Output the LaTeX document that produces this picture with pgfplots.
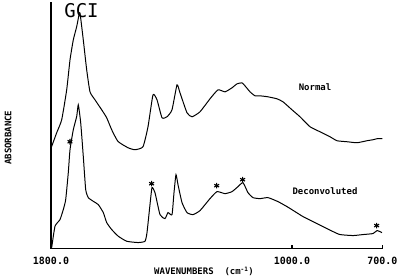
\documentclass[border=0pt]{standalone}
\usepackage{fontspec}
\setmainfont{DejaVu Sans Mono}
\usepackage{pgfplots}
\pgfplotsset{compat=1.18}
\begin{document}
\begin{tikzpicture}
\begin{axis}[
  scale only axis,
  width=332pt, height=247pt,
  x dir=reverse,
  xmin=700, xmax=1800, ymin=0, ymax=247,
  axis x line*=bottom, axis y line*=left,
  axis line style={-, line width=1.3pt},
  xtick={1800,1000,700},
  xticklabels={1800.0,1000.0,700.0},
  ytick=\empty,
  tick align=inside,
  major tick length=4pt,
  tick style={line width=1.1pt, black},
  x tick label style={font=\fontsize{10}{12}\selectfont\bfseries, yshift=-5pt},
  /pgf/number format/assume math mode=true,
  clip=false,
]
\addplot[black, line width=1pt, smooth, tension=0.3] coordinates {
(1797.7,102.3) (1781.1,116) (1764.5,129) (1747.9,159) (1736.9,189) (1726.0,209)
(1714.7,222.3) (1707.1,234) (1703.7,236) (1692.8,209) (1681.5,179) (1670.5,157)
(1654.0,149) (1631.7,139) (1615.1,131) (1598.5,119) (1577.6,107.3) (1544.4,101)
(1521.2,99) (1494.6,102) (1478.0,122) (1461.4,154) (1448.1,149) (1431.5,131)
(1414.9,132) (1398.3,139) (1381.7,164) (1371.8,156) (1348.5,136) (1331.9,132)
(1305.4,137) (1272.2,150) (1245.6,159) (1222.4,157) (1199.2,161) (1182.6,165)
(1166.0,166) (1156.0,163) (1139.4,157) (1122.8,153) (1106.2,153) (1079.7,152)
(1049.8,150) (1029.9,147) (1000.0,139) (973.4,132) (940.2,122) (907.1,117)
(873.9,112) (850.6,108) (817.4,107) (784.2,106) (751.0,108) (731.1,109)
(717.8,110) (700,110)
};
\addplot[black, line width=1pt, smooth, tension=0.3] coordinates {
(1797.7,1) (1786.7,22.3) (1770.1,29) (1759.2,39) (1751.2,49) (1742.6,76)
(1736.9,99) (1726.0,119) (1714.7,132.3) (1709.4,144) (1701.4,126) (1692.8,92.3)
(1684.8,59) (1676.2,51) (1659.6,47.3) (1643.0,44) (1626.4,36) (1615.1,26)
(1598.5,19) (1576.6,12.3) (1548.7,7.3) (1511.2,6) (1488.0,7.3) (1481.3,16)
(1471.4,44) (1464.7,61) (1454.8,56) (1438.2,34) (1421.6,30) (1411.6,36)
(1398.3,34) (1391.7,56) (1385.1,74) (1378.4,64) (1365.1,46) (1348.5,36)
(1328.6,34) (1305.4,38) (1272.2,50) (1248.9,57) (1222.4,55) (1199.2,57)
(1179.3,62) (1162.7,66) (1146.1,56) (1129.5,51) (1106.2,50) (1079.7,51)
(1046.5,47) (1016.6,42) (990.0,37) (963.5,32) (930.3,27) (897.1,22)
(863.9,17) (840.6,14) (797.5,13) (764.3,14) (731.1,15) (717.8,18) (701.3,16)
};
\addplot[only marks, mark=asterisk, mark size=2.8pt, line width=1.1pt, black] coordinates {
(1737,107) (1466,65) (1250,63) (1164,69) (719,23)
};
\node[font=\fontsize{19}{22}\selectfont] at (axis cs:1698.8,238.5) {GCI};
\node[font=\fontsize{9}{11}\selectfont\bfseries] at (axis cs:923.6,162) {Normal};
\node[font=\fontsize{9}{11}\selectfont\bfseries] at (axis cs:890.5,57) {Deconvoluted};
\node[font=\fontsize{9}{11}\selectfont\bfseries] at (axis cs:1292,-23) {WAVENUMBERS\ \ (cm\textsuperscript{-1})};
\node[font=\fontsize{9}{11}\selectfont\bfseries, rotate=90] at (axis cs:1942.7,111) {ABSORBANCE};
\coordinate (bl) at (axis cs:1969.3,-30);
\coordinate (tr) at (axis cs:641.5,249);
\end{axis}
\pgfresetboundingbox
\path[use as bounding box] (bl) rectangle (tr);
\end{tikzpicture}
\end{document}
